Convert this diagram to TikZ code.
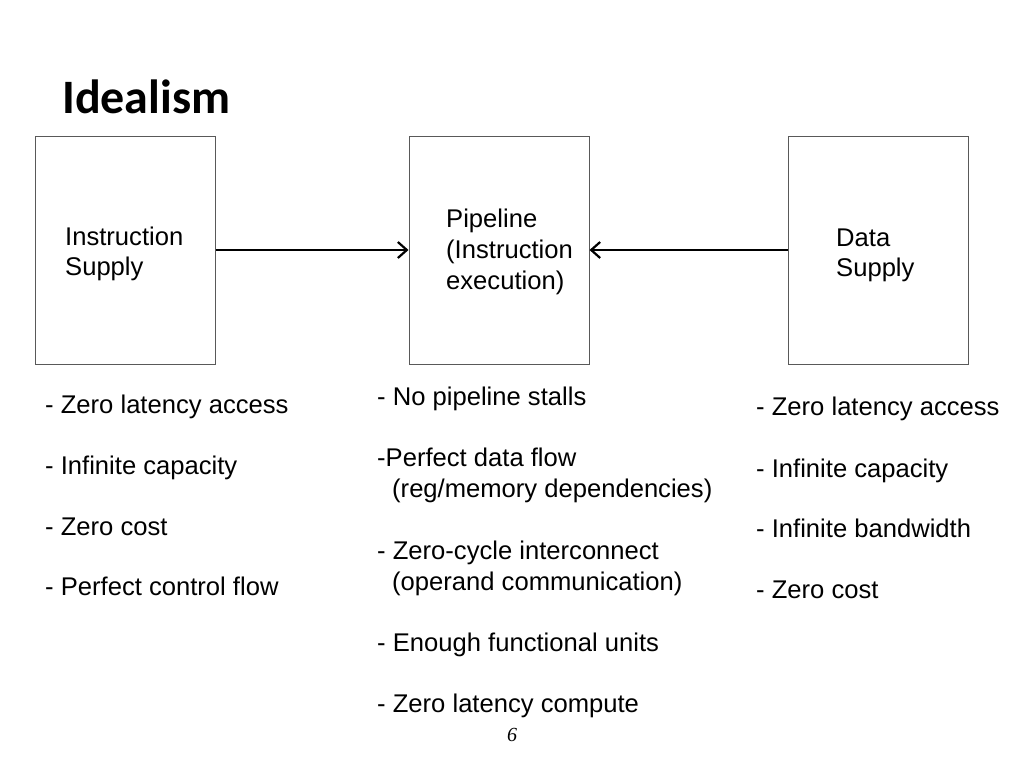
\documentclass[tikz,border=0pt]{standalone}
\usepackage{fontspec}
\setmainfont{Liberation Sans}
\newfontfamily\titlefont{Carlito}
\newfontfamily\numfont{Liberation Serif}
\usetikzlibrary{arrows.meta}
\begin{document}
\begin{tikzpicture}[x=1pt,y=-1pt,
  box/.style={draw=black!65,line width=1pt,minimum width=180pt,minimum height=228pt,inner sep=0pt},
  txt/.style={anchor=base west,inner sep=0pt,font=\fontsize{25.6}{30.7}\selectfont},
  conn/.style={line width=2.5pt,-{Straight Barb[length=9pt,width=16pt,line width=2.2pt]}}]
\useasboundingbox[fill=white] (0,0) rectangle (1024,768);
\node[anchor=base west,inner sep=0pt,font=\titlefont\bfseries\fontsize{48}{57}\selectfont] (title) at (62,113) {Idealism};
\node[box] (b1) at (125,250) {};
\node[box] (b2) at (499,250) {};
\node[box] (b3) at (878,250) {};
\draw[conn] (b1) -- (b2);
\draw[conn] (b3) -- (b2);
\node[txt] (i1) at (65,245) {Instruction};
\node[txt] (i2) at (65,275) {Supply};
\node[txt] (p1) at (446,227) {Pipeline};
\node[txt] (p2) at (446,258) {(Instruction};
\node[txt] (p3) at (446,289) {execution)};
\node[txt] (d1) at (836,246) {Data};
\node[txt] (d2) at (836,276) {Supply};
\node[txt] (l1) at (45,413) {- Zero latency access};
\node[txt] (l2) at (45,474) {- Infinite capacity};
\node[txt] (l3) at (45,535) {- Zero cost};
\node[txt] (l4) at (45,595) {- Perfect control flow};
\node[txt] (m1) at (377,405) {- No pipeline stalls};
\node[txt] (m2) at (377,466) {-Perfect data flow};
\node[txt] (m3) at (392,497) {(reg/memory dependencies)};
\node[txt] (m4) at (377,559) {- Zero-cycle interconnect};
\node[txt] (m5) at (392,590) {(operand communication)};
\node[txt] (m6) at (377,651) {- Enough functional units};
\node[txt] (m7) at (377,712) {- Zero latency compute};
\node[txt] (r1) at (756,415) {- Zero latency access};
\node[txt] (r2) at (756,477) {- Infinite capacity};
\node[txt] (r3) at (756,537) {- Infinite bandwidth};
\node[txt] (r4) at (756,598) {- Zero cost};
\node[anchor=base,inner sep=0pt,font=\numfont\itshape\fontsize{20}{24}\selectfont] (pg) at (512,741) {6};
\end{tikzpicture}
\end{document}
